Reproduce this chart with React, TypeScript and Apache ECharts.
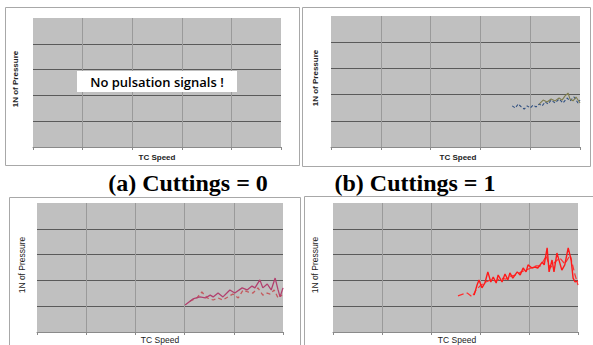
import React, { useEffect, useRef } from "react";
import * as echarts from "echarts";

// Panel (b) Cuttings = 1 (top right)
const bBlueX = [3.64, 3.7, 3.76, 3.82, 3.88, 3.94, 4.0, 4.06, 4.12, 4.18, 4.24, 4.3, 4.36, 4.42, 4.5, 4.58, 4.66, 4.74, 4.8, 4.88, 4.96, 5.0];
const bBlueY = [1.57, 1.49, 1.64, 1.53, 1.45, 1.57, 1.49, 1.6, 1.53, 1.64, 1.57, 1.72, 1.64, 1.79, 1.68, 1.83, 1.68, 1.87, 1.76, 1.91, 1.68, 1.79];
const bOliveX = [4.18, 4.26, 4.34, 4.42, 4.5, 4.58, 4.64, 4.7, 4.76, 4.8, 4.86, 4.92, 5.0];
const bOliveY = [1.64, 1.79, 1.72, 1.83, 1.76, 1.87, 1.79, 1.95, 2.06, 1.83, 1.76, 1.91, 1.68];

// Panel (c) (bottom left)
const cSolidX = [3.01, 3.17, 3.31, 3.42, 3.52, 3.58, 3.68, 3.78, 3.92, 4.02, 4.17, 4.27, 4.37, 4.43, 4.53, 4.59, 4.68, 4.76, 4.84, 4.9, 4.94, 5.0];
const cSolidY = [1.05, 1.28, 1.36, 1.32, 1.43, 1.36, 1.51, 1.36, 1.63, 1.51, 1.71, 1.63, 1.78, 1.71, 2.02, 1.71, 1.86, 1.63, 2.09, 1.63, 1.36, 1.71];
const cDashX = [3.11, 3.25, 3.35, 3.46, 3.58, 3.68, 3.78, 3.88, 3.98, 4.09, 4.19, 4.29, 4.39, 4.49, 4.59, 4.68, 4.74, 4.82, 4.9, 4.98];
const cDashY = [1.2, 1.32, 1.55, 1.32, 1.24, 1.32, 1.24, 1.36, 1.47, 1.32, 1.63, 1.55, 1.51, 1.71, 1.43, 1.51, 1.47, 1.63, 1.32, 1.43];

// Panel (d) (bottom right)
const dSolidX = [2.88, 2.94, 2.98, 3.04, 3.1, 3.16, 3.22, 3.27, 3.33, 3.37, 3.45, 3.51, 3.57, 3.61, 3.67, 3.76, 3.82, 3.88, 3.94, 3.98, 4.06, 4.12, 4.18, 4.27, 4.31, 4.37, 4.41, 4.47, 4.51, 4.57, 4.63, 4.67, 4.73, 4.8, 4.86, 4.9, 4.94, 5.0];
const dSolidY = [1.43, 1.82, 2.02, 1.71, 1.9, 2.33, 1.94, 2.13, 1.9, 2.21, 1.94, 2.25, 2.02, 2.29, 2.09, 2.33, 2.21, 2.48, 2.33, 2.6, 2.48, 2.52, 2.48, 2.71, 2.6, 3.26, 2.33, 2.79, 2.33, 3.06, 2.67, 2.4, 2.6, 3.26, 2.79, 2.09, 1.94, 1.98];
const dDashX = [2.55, 2.65, 2.74, 2.84, 2.92, 3.02, 3.12, 3.22, 3.33, 3.43, 3.53, 3.63, 3.73, 3.84, 3.94, 4.04, 4.14, 4.24, 4.35, 4.43, 4.53, 4.63, 4.73, 4.84, 4.94, 5.0];
const dDashY = [1.4, 1.47, 1.51, 1.36, 1.63, 1.82, 1.94, 2.02, 1.98, 2.09, 2.05, 2.17, 2.21, 2.33, 2.4, 2.48, 2.56, 2.56, 2.95, 2.48, 2.71, 2.87, 2.64, 2.98, 2.21, 1.82];

const xTicks = [0, 1, 2, 3, 4, 5];
const yTicks = [0, 1, 2, 3, 4, 5];

const yLabel = "1N of Pressure";
const xLabel = "TC Speed";
const captionA = "(a) Cuttings = 0";
const captionB = "(b) Cuttings = 1";
const noSignal = "No pulsation signals !";

const zip = (xs: number[], ys: number[]) => xs.map((x, i) => [x, ys[i]]);

export default function App() {
  const ref = useRef<HTMLDivElement>(null);
  useEffect(() => {
    document.body.style.margin = "0";
    const chart = echarts.init(ref.current!, undefined, { renderer: "svg" });
    const grids = [
      { left: 33, top: 18, width: 248, height: 129 },
      { left: 331, top: 16, width: 249, height: 131 },
      { left: 37, top: 203, width: 246, height: 129 },
      { left: 333, top: 203, width: 245, height: 129 },
    ];
    const xAxes = grids.map((_, i) => ({
      type: "value",
      gridIndex: i,
      min: xTicks[0],
      max: xTicks[xTicks.length - 1],
      interval: 1,
      axisLine: { show: true, lineStyle: { color: "#8a8a8a", width: 1 } },
      axisTick: { show: true, length: 3, lineStyle: { color: "#8a8a8a" } },
      axisLabel: { show: false },
      splitLine: { show: true, showMinLine: false, showMaxLine: false, lineStyle: { color: "#9a9a9a", width: 1 } },
    }));
    const yAxes = grids.map((_, i) => ({
      type: "value",
      gridIndex: i,
      min: yTicks[0],
      max: yTicks[yTicks.length - 1],
      interval: 1,
      axisLine: { show: false },
      axisTick: { show: false },
      axisLabel: { show: false },
      splitLine: { show: true, showMinLine: false, showMaxLine: false, lineStyle: { color: "#5a5a5a", width: 1 } },
    }));
    const line = (idx: number, data: number[][], color: string, width: number, type: any) => ({
      type: "line",
      xAxisIndex: idx,
      yAxisIndex: idx,
      data,
      showSymbol: false,
      symbol: "none",
      lineStyle: { color, width, type },
      z: 3,
    });
    const boxes = [
      [5, 7, 294, 158],
      [302, 7, 288, 159],
      [9, 197, 291, 160],
      [304, 196, 300, 160],
    ];
    const yLabelPos = [
      [15, 79, true],
      [315, 78, true],
      [22, 265, false],
      [315, 265, false],
    ];
    const xLabelPos = [
      [157, 157, true],
      [458, 157, true],
      [160, 339.5, false],
      [457, 339.5, false],
    ];
    const graphic: any[] = [];
    boxes.forEach(([x, y, w, h]) =>
      graphic.push({
        type: "rect",
        shape: { x: x + 0.5, y: y + 0.5, width: w, height: h },
        style: { fill: "#ffffff", stroke: "#a8a8a8", lineWidth: 1 },
        z: -10,
      })
    );
    yLabelPos.forEach(([x, y, bold]) =>
      graphic.push({
        type: "text",
        x: x as number,
        y: y as number,
        rotation: Math.PI / 2,
        style: {
          text: yLabel,
          fontFamily: "Liberation Sans",
          fontSize: bold ? 8 : 8.5,
          fontWeight: bold ? "bold" : "normal",
          fill: "#222222",
          align: "center",
          verticalAlign: "middle",
        },
        z: 5,
      })
    );
    xLabelPos.forEach(([x, y, bold]) =>
      graphic.push({
        type: "text",
        x: x as number,
        y: y as number,
        style: {
          text: xLabel,
          fontFamily: "Liberation Sans",
          fontSize: bold ? 8 : 8.5,
          fontWeight: bold ? "bold" : "normal",
          fill: "#222222",
          align: "center",
          verticalAlign: "middle",
        },
        z: 5,
      })
    );
    graphic.push({
      type: "rect",
      shape: { x: 77, y: 71, width: 160, height: 21 },
      style: { fill: "#ffffff" },
      z: 10,
    });
    graphic.push({
      type: "text",
      x: 157,
      y: 82,
      style: {
        text: noSignal,
        fontFamily: "Open Sans",
        fontSize: 13,
        fontWeight: 600,
        fill: "#000000",
        align: "center",
        verticalAlign: "middle",
      },
      z: 11,
    });
    [
      [188, 183, captionA],
      [415, 183, captionB],
    ].forEach(([x, y, t]) =>
      graphic.push({
        type: "text",
        x: x as number,
        y: y as number,
        style: {
          text: t as string,
          fontFamily: "Liberation Serif",
          fontSize: 24,
          fontWeight: "bold",
          fill: "#000000",
          align: "center",
          verticalAlign: "middle",
        },
        z: 5,
      })
    );

    chart.setOption({
      animation: false,
      grid: grids.map((g) => ({ ...g, show: true, backgroundColor: "#c0c0c0", borderWidth: 0 })),
      xAxis: xAxes,
      yAxis: yAxes,
      series: [
        line(1, zip(bBlueX, bBlueY), "#2f4f80", 1.1, [3, 2]),
        line(1, zip(bOliveX, bOliveY), "#7e7c4e", 1.1, "solid"),
        line(2, zip(cDashX, cDashY), "#c45a5e", 1.3, [4, 3]),
        line(2, zip(cSolidX, cSolidY), "#b2406e", 1.3, "solid"),
        line(3, zip(dDashX, dDashY), "#ff3030", 1.2, [6, 3]),
        line(3, zip(dSolidX, dSolidY), "#ff1a1a", 1.4, "solid"),
      ],
      graphic,
    });
    return () => chart.dispose();
  }, []);
  return <div ref={ref} style={{ width: 593, height: 345 }} />;
}
